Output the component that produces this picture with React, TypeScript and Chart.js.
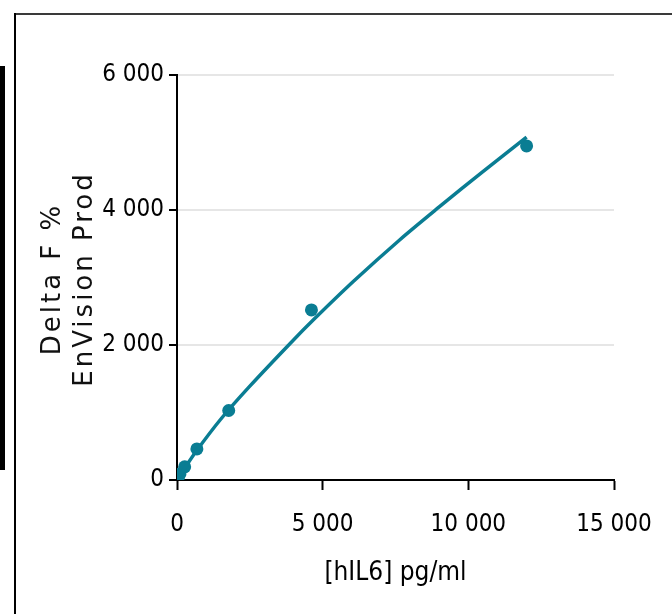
import React, { useEffect, useRef } from "react";
import { Chart, registerables } from "chart.js";

Chart.register(...registerables);

// Standards (measured)
const concentrations = [0, 39, 101, 263, 683, 1775, 4615, 12000];
const deltaF = [0, 30, 90, 195, 460, 1030, 2520, 4950];

// Fitted curve
const fitX = [0, 263, 683, 1500, 2500, 3900, 4700, 6050, 7650, 9000, 10500, 12000];
const fitY = [0, 175, 440, 900, 1390, 2030, 2380, 2940, 3560, 4045, 4570, 5080];

const xTicks = [0, 5000, 10000, 15000];
const yTicks = [0, 2000, 4000, 6000];

const xTitle = "[hIL6] pg/ml";
const yTitleLines = ["Delta F %", "EnVision Prod"];

const TEAL = "#0a7d93";
const NARROW = "'Liberation Sans Narrow', 'DejaVu Sans Condensed', 'Roboto', sans-serif";

const fmt = (v: number) => {
  const s = Math.round(v).toString();
  return s.replace(/\B(?=(\d{3})+(?!\d))/g, " ");
};

const yTitlePlugin = {
  id: "yTitlePlugin",
  afterDraw(chart: any) {
    const { ctx, chartArea } = chart;
    const cy = (chartArea.top + chartArea.bottom) / 2 + 3;
    ctx.save();
    ctx.fillStyle = "#111";
    ctx.font = "26px 'DejaVu Sans', sans-serif";
    try {
      (ctx as any).letterSpacing = "3px";
    } catch (e) {}
    ctx.textAlign = "center";
    ctx.textBaseline = "middle";
    const xs = [chartArea.left - 124, chartArea.left - 92];
    yTitleLines.forEach((line, i) => {
      ctx.save();
      ctx.translate(xs[i], cy);
      ctx.rotate(-Math.PI / 2);
      ctx.fillText(line, 1.5, 0);
      ctx.restore();
    });
    ctx.restore();
  },
};

export default function App() {
  const ref = useRef<HTMLCanvasElement | null>(null);

  useEffect(() => {
    if (!ref.current) return;
    const chart = new Chart(ref.current, {
      type: "scatter",
      data: {
        datasets: [
          {
            label: "fit",
            data: fitX.map((x, i) => ({ x, y: fitY[i] })),
            showLine: true,
            borderColor: TEAL,
            borderWidth: 3.5,
            pointRadius: 0,
            tension: 0.3,
            fill: false,
          } as any,
          {
            label: "standards",
            data: concentrations.map((x, i) => ({ x, y: deltaF[i] })),
            showLine: false,
            backgroundColor: TEAL,
            borderColor: TEAL,
            pointRadius: 6.5,
            pointBorderWidth: 0,
          },
        ],
      },
      options: {
        responsive: false,
        animation: false,
        layout: { padding: { left: 0, top: 75, right: 58, bottom: 0 } },
        plugins: {
          legend: { display: false },
          tooltip: { enabled: false },
        },
        scales: {
          x: {
            type: "linear",
            min: 0,
            max: 15000,
            afterFit: (s: any) => {
              s.height = 134;
            },
            afterBuildTicks: (s: any) => {
              s.ticks = xTicks.map((v) => ({ value: v }));
            },
            border: { color: "#000", width: 2 },
            grid: {
              drawOnChartArea: false,
              drawTicks: true,
              tickLength: 10,
              tickColor: "#000",
              tickWidth: 2,
            },
            ticks: {
              color: "#000",
              padding: 20,
              font: { family: NARROW, size: 24 },
              callback: (v: any) => fmt(Number(v)),
            },
            title: {
              display: true,
              text: xTitle,
              color: "#000",
              font: { family: NARROW, size: 26 },
              padding: { top: 0, bottom: 25 },
            },
          },
          y: {
            type: "linear",
            min: 0,
            max: 6000,
            afterFit: (s: any) => {
              s.width = 177;
            },
            afterBuildTicks: (s: any) => {
              s.ticks = yTicks.map((v) => ({ value: v }));
            },
            border: { color: "#000", width: 2 },
            grid: {
              color: "#e6e6e6",
              lineWidth: 2,
              drawTicks: true,
              tickLength: 8,
              tickColor: "#000",
              tickWidth: 2,
            },
            ticks: {
              color: "#000",
              padding: 5,
              font: { family: NARROW, size: 24 },
              callback: (v: any) => fmt(Number(v)),
            },
          },
        },
      },
      plugins: [yTitlePlugin],
    });
    return () => chart.destroy();
  }, []);

  return (
    <div
      style={{
        position: "fixed",
        left: 0,
        top: 0,
        width: 672,
        height: 614,
        background: "#fff",
        overflow: "hidden",
      }}
    >
      <div style={{ position: "absolute", left: 0, top: 66, width: 5, height: 404, background: "#000" }} />
      <div style={{ position: "absolute", left: 14, top: 13, width: 658, height: 2, background: "#3a3a3a" }} />
      <div style={{ position: "absolute", left: 14, top: 13, width: 2, height: 601, background: "#000" }} />
      <canvas ref={ref} width={672} height={614} style={{ position: "absolute", left: 0, top: 0, display: "block" }} />
    </div>
  );
}
